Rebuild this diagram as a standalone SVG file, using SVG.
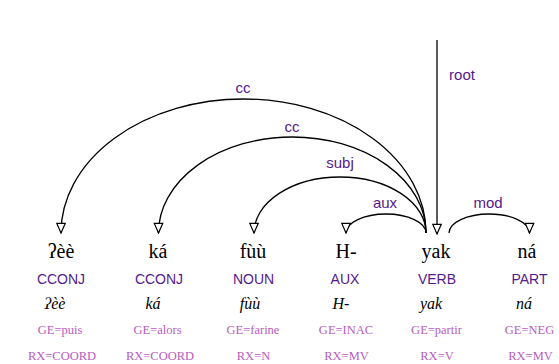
<svg xmlns="http://www.w3.org/2000/svg" width="559" height="364" viewBox="0 0 559 364">
  <style>
    .form { font-family: "Liberation Serif", "Times New Roman", serif; font-size: 20px; fill: #000; text-anchor: middle; }
    .upos { font-family: "Liberation Sans", Arial, sans-serif; font-size: 14px; fill: #551a8b; text-anchor: middle; }
    .lemma { font-family: "Liberation Serif", "Times New Roman", serif; font-size: 16px; font-style: italic; fill: #000; text-anchor: middle; }
    .feat { font-family: "Liberation Serif", "Times New Roman", serif; font-size: 12.5px; fill: #b85cc0; text-anchor: middle; }
    .deprel { font-family: "Liberation Sans", Arial, sans-serif; font-size: 15px; fill: #551a8b; text-anchor: middle; }
    .arc { fill: none; stroke: #000; stroke-width: 1.3; marker-end: url(#head); }
  </style>
  <defs>
    <marker id="head" markerUnits="userSpaceOnUse" markerWidth="12" markerHeight="12" refX="8" refY="0" viewBox="-1 -5 10 10" orient="auto">
      <path d="M0,-3.5 L8,0 L0,3.5 Z" fill="#fff" stroke="#000" stroke-width="1"/>
    </marker>
  </defs>

  <!-- dependency arcs -->
  <g id="connectors">
    <path class="arc" d="M426,233 A182.5,134 0 0 0 61,233"/>
    <path class="arc" d="M426,233 A133.75,96 0 0 0 158.5,233"/>
    <path class="arc" d="M426,233 A86,56 0 0 0 254,233"/>
    <path class="arc" d="M426,233 A40,19 0 0 0 346,233"/>
    <path class="arc" d="M449,233 A40.25,19 0 0 1 529.5,233"/>
    <path class="arc" d="M437,40 L437,234"/>
    <text class="deprel" x="243" y="93">cc</text>
    <text class="deprel" x="292" y="132">cc</text>
    <text class="deprel" x="340" y="168">subj</text>
    <text class="deprel" x="385" y="208">aux</text>
    <text class="deprel" x="488" y="208">mod</text>
    <text class="deprel" x="462" y="80">root</text>
  </g>

  <!-- tokens -->
  <g id="tok1">
    <text class="form" x="61" y="258">ʔèè</text>
    <text class="upos" x="61" y="284">CCONJ</text>
    <text class="lemma" x="55" y="309">ʔèè</text>
    <text class="feat" x="60" y="334">GE=puis</text>
    <text class="feat" x="62" y="360">RX=COORD</text>
  </g>
  <g id="tok2">
    <text class="form" x="158" y="258">ká</text>
    <text class="upos" x="159" y="284">CCONJ</text>
    <text class="lemma" x="153" y="309">ká</text>
    <text class="feat" x="157.5" y="334">GE=alors</text>
    <text class="feat" x="160" y="360">RX=COORD</text>
  </g>
  <g id="tok3">
    <text class="form" x="253" y="258">fùù</text>
    <text class="upos" x="253.5" y="284">NOUN</text>
    <text class="lemma" x="250" y="309">fùù</text>
    <text class="feat" x="253" y="334">GE=farine</text>
    <text class="feat" x="253.5" y="360">RX=N</text>
  </g>
  <g id="tok4">
    <text class="form" x="346" y="258">H-</text>
    <text class="upos" x="345" y="284">AUX</text>
    <text class="lemma" x="341" y="309">H-</text>
    <text class="feat" x="346" y="334">GE=INAC</text>
    <text class="feat" x="346.5" y="360">RX=MV</text>
  </g>
  <g id="tok5">
    <text class="form" x="436" y="258">yak</text>
    <text class="upos" x="437" y="284">VERB</text>
    <text class="lemma" x="431" y="309">yak</text>
    <text class="feat" x="436.5" y="334">GE=partir</text>
    <text class="feat" x="437" y="360">RX=V</text>
  </g>
  <g id="tok6">
    <text class="form" x="527" y="258">ná</text>
    <text class="upos" x="529.5" y="284">PART</text>
    <text class="lemma" x="524" y="309">ná</text>
    <text class="feat" x="529.5" y="334">GE=NEG</text>
    <text class="feat" x="530.5" y="360">RX=MV</text>
  </g>
</svg>
